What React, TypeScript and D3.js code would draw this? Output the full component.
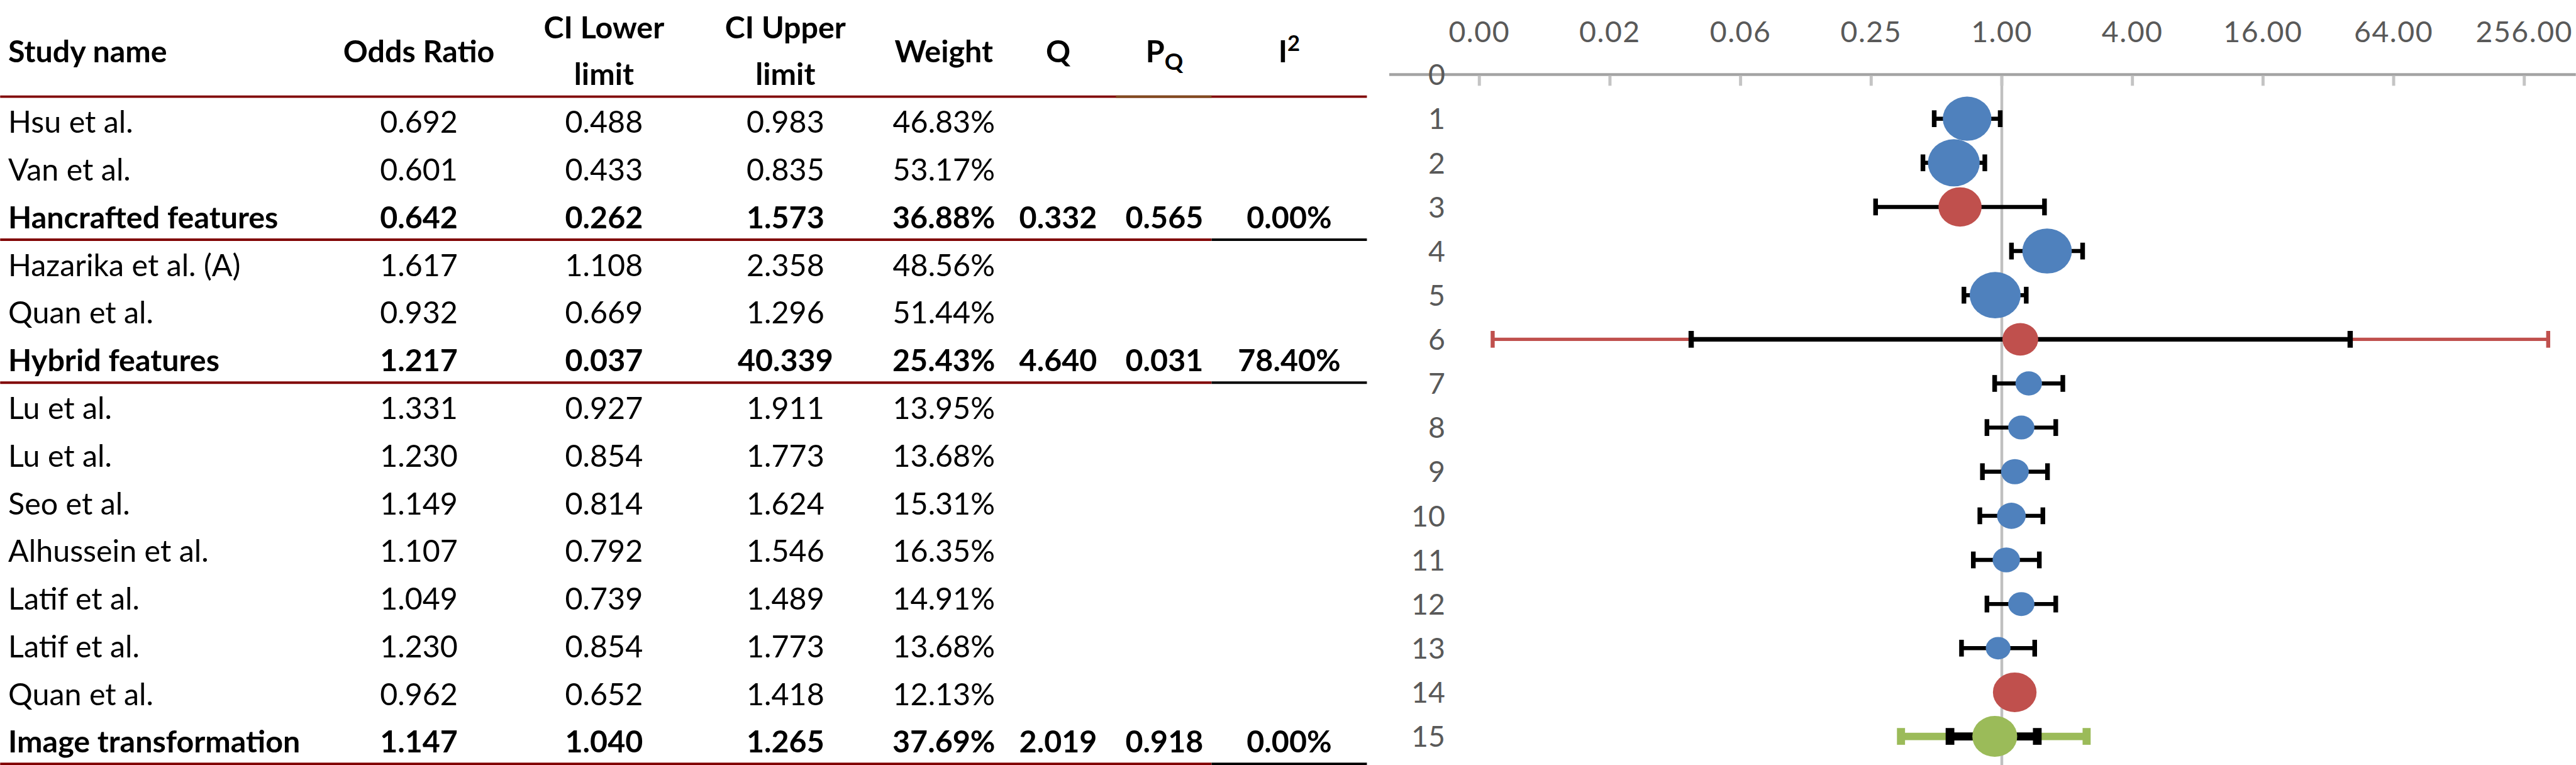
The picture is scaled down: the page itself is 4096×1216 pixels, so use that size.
import React from 'react'
import * as d3 from 'd3'

// Subgroup meta-analysis table (left) with a forest plot on a base-4 log axis (right).
const studyNames = [
  'Hsu et al.',
  'Van et al.',
  'Hancrafted features',
  'Hazarika et al. (A)',
  'Quan et al.',
  'Hybrid features',
  'Lu et al.',
  'Lu et al.',
  'Seo et al.',
  'Alhussein et al.',
  'Latif et al.',
  'Latif et al.',
  'Quan et al.',
  'Image transformation',
]
const oddsRatio = [0.692, 0.601, 0.642, 1.617, 0.932, 1.217, 1.331, 1.23, 1.149, 1.107, 1.049, 1.23, 0.962, 1.147]
const ciLower = [0.488, 0.433, 0.262, 1.108, 0.669, 0.037, 0.927, 0.854, 0.814, 0.792, 0.739, 0.854, 0.652, 1.04]
const ciUpper = [0.983, 0.835, 1.573, 2.358, 1.296, 40.339, 1.911, 1.773, 1.624, 1.546, 1.489, 1.773, 1.418, 1.265]
const weights = [46.83, 53.17, 36.88, 48.56, 51.44, 25.43, 13.95, 13.68, 15.31, 16.35, 14.91, 13.68, 12.13, 37.69]
const qStat = [null, null, 0.332, null, null, 4.64, null, null, null, null, null, null, null, 2.019]
const pQ = [null, null, 0.565, null, null, 0.031, null, null, null, null, null, null, null, 0.918]
const iSquared = [null, null, 0.0, null, null, 78.4, null, null, null, null, null, null, null, 0.0]
const isSubtotal = [false, false, true, false, false, true, false, false, false, false, false, false, false, true]

// prediction interval, only drawn where the plot shows one
const predLower = [null, null, null, null, null, 0.0045, null, null, null, null, null, null, null, null]
const predUpper = [null, null, null, null, null, 330, null, null, null, null, null, null, null, null]

// pooled row at the bottom of the plot (no table row)
const overallOR = 0.928
const overallLower = 0.577
const overallUpper = 1.457
const overallPredLower = 0.343
const overallPredUpper = 2.46
const overallWeight = 40

const xTicks = [1 / 256, 1 / 64, 1 / 16, 1 / 4, 1, 4, 16, 64, 256]
const xTickLabels = ['0.00', '0.02', '0.06', '0.25', '1.00', '4.00', '16.00', '64.00', '256.00']
const yTicks = d3.range(0, 16)

const W = 4146
const H = 1231
const FONT = 'Lato, Carlito, Calibri, sans-serif'
const MAROON = '#800000'
const BLUE = '#4f81bd'
const RED = '#c0504d'
const GREEN = '#9bbb59'
const AXIS_GREY = '#595959'

// table columns (centre x), study name is left aligned
const col = { name: 13, or: 674, lo: 972, hi: 1264, w: 1519, q: 1703, p: 1874, i2: 2075 }
const tableRight = 2200
const splitX = 1950
const pqLeft = 1796

export default function App() {
  const rowTop = d3.scaleLinear().domain([0, 14]).range([155.5, 155.5 + 76.7 * 14])
  const base = (i: number) => rowTop(i) + 58.5

  const x = d3.scaleLog().base(4).domain([1 / 256, 256]).range([2381, 4063])
  const y = d3.scaleLinear().domain([0, 15]).range([120, 1185])
  const r = d3.scaleSqrt().domain([0, 100]).range([0, 52])
  const f3 = d3.format('.3f')
  const f2 = d3.format('.2f')

  type Row = {
    k: number
    or: number
    lo: number
    hi: number
    w: number
    pl: number | null
    pu: number | null
    color: string
    thick: number
    ciThick: number
  }
  const rows: Row[] = oddsRatio.map((v, i) => ({
    k: i + 1,
    or: v,
    lo: ciLower[i],
    hi: ciUpper[i],
    w: weights[i],
    pl: predLower[i],
    pu: predUpper[i],
    color: isSubtotal[i] ? RED : BLUE,
    thick: 5.5,
    ciThick: predLower[i] !== null ? 7.5 : 6.5,
  }))
  rows.push({
    k: 15,
    or: overallOR,
    lo: overallLower,
    hi: overallUpper,
    w: overallWeight,
    pl: overallPredLower,
    pu: overallPredUpper,
    color: GREEN,
    thick: 12,
    ciThick: 13,
  })

  const seps = [0, ...isSubtotal.map((s, i) => (s ? i + 1 : -1)).filter((i) => i > 0)]

  const bar = (a: number, b: number, cy: number, color: string, sw: number, key: string) => (
    <g key={key}>
      <line x1={x(a)} x2={x(b)} y1={cy} y2={cy} stroke={color} strokeWidth={sw} />
      <line x1={x(a)} x2={x(a)} y1={cy - 13.5} y2={cy + 13.5} stroke={color} strokeWidth={sw + 1} />
      <line x1={x(b)} x2={x(b)} y1={cy - 13.5} y2={cy + 13.5} stroke={color} strokeWidth={sw + 1} />
    </g>
  )

  return (
    <svg
      width={4096}
      height={1216}
      viewBox={`0 0 ${W} ${H}`}
      style={{ position: 'absolute', left: 0, top: 0, display: 'block', background: '#fff' }}
      fontFamily={FONT}
    >
      <rect x={0} y={0} width={W} height={H} fill="#fff" />

      {/* ---------- table ---------- */}
      <g fontSize={49} fill="#000">
        <g fontWeight={700}>
          <text x={col.name} y={100}>Study name</text>
          <text x={col.or} y={100} textAnchor="middle">Odds Ratio</text>
          <text x={col.lo} y={62} textAnchor="middle">CI Lower</text>
          <text x={col.lo} y={137} textAnchor="middle">limit</text>
          <text x={col.hi} y={62} textAnchor="middle">CI Upper</text>
          <text x={col.hi} y={137} textAnchor="middle">limit</text>
          <text x={col.w} y={100} textAnchor="middle">Weight</text>
          <text x={col.q} y={100} textAnchor="middle">Q</text>
          <text x={col.p} y={100} textAnchor="middle">
            P
            <tspan dy={12} fontSize={37}>Q</tspan>
          </text>
          <text x={col.i2} y={100} textAnchor="middle">
            I
            <tspan dy={-18} fontSize={35}>2</tspan>
          </text>
        </g>

        {studyNames.map((n, i) => (
          <g key={i} fontWeight={isSubtotal[i] ? 700 : 400}>
            <text x={col.name} y={base(i)}>{n}</text>
            <text x={col.or} y={base(i)} textAnchor="middle">{f3(oddsRatio[i])}</text>
            <text x={col.lo} y={base(i)} textAnchor="middle">{f3(ciLower[i])}</text>
            <text x={col.hi} y={base(i)} textAnchor="middle">{f3(ciUpper[i])}</text>
            <text x={col.w} y={base(i)} textAnchor="middle">{f2(weights[i]) + '%'}</text>
            {qStat[i] !== null && (
              <text x={col.q} y={base(i)} textAnchor="middle">{f3(qStat[i] as number)}</text>
            )}
            {pQ[i] !== null && (
              <text x={col.p} y={base(i)} textAnchor="middle">{f3(pQ[i] as number)}</text>
            )}
            {iSquared[i] !== null && (
              <text x={col.i2} y={base(i)} textAnchor="middle">{f2(iSquared[i] as number) + '%'}</text>
            )}
          </g>
        ))}

        {seps.map((i) => {
          const yy = rowTop(i)
          return i === 0 ? (
            <g key={i}>
              <line x1={0} x2={tableRight} y1={yy} y2={yy} stroke={MAROON} strokeWidth={4} />
              <line x1={pqLeft} x2={splitX} y1={yy} y2={yy} stroke="#7f4a1e" strokeWidth={4} />
            </g>
          ) : (
            <g key={i}>
              <line x1={0} x2={splitX} y1={yy} y2={yy} stroke={MAROON} strokeWidth={4} />
              <line x1={splitX} x2={tableRight} y1={yy} y2={yy} stroke="#000" strokeWidth={4} />
            </g>
          )
        })}
      </g>

      {/* ---------- forest plot ---------- */}
      <g>
        <line x1={x(1)} x2={x(1)} y1={y(0)} y2={H} stroke="#c0c0c0" strokeWidth={4.5} />
        <line x1={2236} x2={W} y1={y(0)} y2={y(0)} stroke="#a3a3a3" strokeWidth={4.5} />
        {xTicks.map((t, i) => (
          <g key={i}>
            <line x1={x(t)} x2={x(t)} y1={y(0) + 2} y2={y(0) + 18} stroke="#c4c4c4" strokeWidth={5} />
            <text x={x(t)} y={68} textAnchor="middle" fontSize={47} fill={AXIS_GREY} letterSpacing={1.5}>
              {xTickLabels[i]}
            </text>
          </g>
        ))}
        {yTicks.map((k) => (
          <text key={k} x={2326} y={y(k)} dy="0.36em" textAnchor="end" fontSize={47} fill={AXIS_GREY}>
            {k}
          </text>
        ))}

        {rows.map((d) => (
          <g key={d.k}>
            {d.pl !== null && d.pu !== null && bar(d.pl, d.pu, y(d.k), d.color, d.thick, 'p')}
            {bar(d.lo, d.hi, y(d.k), '#000', d.ciThick, 'c')}
            <ellipse cx={x(d.or)} cy={y(d.k)} rx={r(d.w) * 1.1} ry={r(d.w)} fill={d.color} />
          </g>
        ))}
      </g>
    </svg>
  )
}
